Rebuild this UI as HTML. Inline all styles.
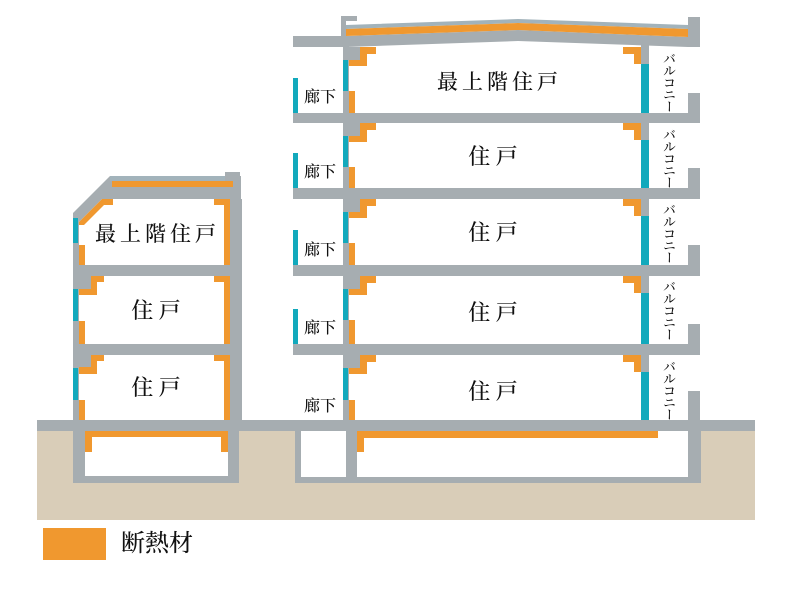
<!DOCTYPE html>
<html><head><meta charset="utf-8">
<style>
html,body{margin:0;padding:0;background:#fff;}
#c{position:relative;width:796px;height:597px;overflow:hidden;background:#fff;}
svg{position:absolute;left:0;top:0;}
.t{position:absolute;white-space:nowrap;color:#111;font-weight:500;font-family:"Liberation Serif","Noto Serif CJK SC","Noto Sans CJK JP",serif;}
.big{font-size:21px;line-height:21px;letter-spacing:4px;}
.mid{font-size:22px;line-height:22px;width:100px;text-align:center;}
.cor{font-size:16px;line-height:16px;}
.bal{font-size:13px;line-height:13px;writing-mode:vertical-rl;width:13px;letter-spacing:-1px;}
</style></head><body>
<div id="c">
<svg width="796" height="597" viewBox="0 0 796 597" xmlns="http://www.w3.org/2000/svg">
<!-- ground -->
<rect x="37" y="431" width="718" height="89" fill="#d9cdb8"/>
<rect x="37" y="420" width="718" height="11" fill="#a6adb1"/>
<!-- basements -->
<rect x="73" y="431" width="166" height="52" fill="#a6adb1"/>
<rect x="85" y="431" width="143" height="45" fill="#fff"/>
<rect x="295" y="431" width="406" height="52" fill="#a6adb1"/>
<rect x="301" y="431" width="45" height="46" fill="#fff"/>
<rect x="357" y="431" width="331" height="46" fill="#fff"/>
<g fill="#f0982f">
<rect x="85" y="431" width="143" height="6"/>
<rect x="85" y="437" width="7" height="15"/>
<rect x="221" y="437" width="7" height="15"/>
<rect x="357" y="431" width="301" height="7"/>
<rect x="357" y="438" width="7" height="14"/>
</g>

<!-- RIGHT BUILDING gray structure -->
<g fill="#a6adb1">
<rect x="293" y="113" width="407" height="10"/>
<rect x="293" y="188" width="407" height="11"/>
<rect x="293" y="265" width="407" height="11"/>
<rect x="293" y="344" width="407" height="11"/>
<rect x="341" y="16" width="5" height="31"/>
<rect x="341" y="16" width="16" height="5"/>
<rect x="343" y="36" width="6" height="384"/>
<rect x="641" y="40" width="8" height="380"/>
<rect x="293" y="36" width="53" height="11"/>
<rect x="688" y="17" width="12" height="30"/>
<polygon points="346,36 518,30 688,37 688,47 518,41 346,47"/>
<rect x="349" y="47" width="11" height="13"/>
<rect x="349" y="123" width="11" height="13"/>
<rect x="349" y="199" width="11" height="13"/>
<rect x="349" y="276" width="11" height="13"/>
<rect x="349" y="355" width="11" height="13"/>
<rect x="688" y="93" width="12" height="20"/>
<rect x="688" y="168" width="12" height="20"/>
<rect x="688" y="245" width="12" height="20"/>
<rect x="688" y="324" width="12" height="20"/>
<rect x="688" y="391" width="12" height="29"/>
</g>
<polygon points="346,25 518,19 688,25 688,29 518,23 346,29" fill="#a2b3bb"/>
<polygon points="346,29 518,23 688,29 688,37 518,30 346,36" fill="#f0982f"/>

<!-- right building orange -->
<g fill="#f0982f">
<polygon points="360,47 376,47 376,54 367,54 367,66 349,66 349,60 360,60"/>
<polygon points="360,123 376,123 376,130 367,130 367,142 349,142 349,136 360,136"/>
<polygon points="360,199 376,199 376,206 367,206 367,218 349,218 349,212 360,212"/>
<polygon points="360,276 376,276 376,283 367,283 367,295 349,295 349,289 360,289"/>
<polygon points="360,355 376,355 376,362 367,362 367,374 349,374 349,368 360,368"/>
<rect x="349" y="91" width="6" height="22"/>
<rect x="349" y="167" width="6" height="21"/>
<rect x="349" y="243" width="6" height="22"/>
<rect x="349" y="320" width="6" height="24"/>
<rect x="349" y="400" width="6" height="20"/>
<polygon points="623,47 641,47 641,64 634,64 634,54 623,54"/>
<polygon points="623,123 641,123 641,140 634,140 634,130 623,130"/>
<polygon points="623,199 641,199 641,216 634,216 634,206 623,206"/>
<polygon points="623,276 641,276 641,293 634,293 634,283 623,283"/>
<polygon points="623,355 641,355 641,372 634,372 634,362 623,362"/>
</g>
<!-- right building teal -->
<g fill="#12a9bc">
<rect x="343" y="60" width="5" height="31"/>
<rect x="343" y="136" width="5" height="31"/>
<rect x="343" y="212" width="5" height="31"/>
<rect x="343" y="289" width="5" height="31"/>
<rect x="343" y="368" width="5" height="32"/>
<rect x="641" y="64" width="8" height="49"/>
<rect x="641" y="140" width="8" height="48"/>
<rect x="641" y="216" width="8" height="49"/>
<rect x="641" y="293" width="8" height="51"/>
<rect x="641" y="372" width="8" height="48"/>
<rect x="293" y="78" width="5" height="35"/>
<rect x="293" y="153" width="5" height="35"/>
<rect x="293" y="230" width="5" height="35"/>
<rect x="293" y="309" width="5" height="35"/>
</g>

<!-- LEFT BUILDING -->
<g fill="#a6adb1">
<polygon points="73,213 110,176 241,176 241,199 102,199 79,222 73,222"/>
<rect x="225" y="172" width="15" height="9"/>
<rect x="73" y="222" width="6" height="198"/>
<rect x="230" y="199" width="12" height="221"/>
<rect x="73" y="265" width="169" height="11"/>
<rect x="73" y="344" width="169" height="11"/>
<rect x="79" y="276" width="12" height="13"/>
<rect x="79" y="355" width="12" height="12"/>
</g>
<rect x="110" y="176" width="115" height="5" fill="#a2b3bb"/>
<g fill="#f0982f">
<rect x="112" y="181" width="121" height="6"/>
<polygon points="102,199 113,199 113,205 104,205 84,225 79,225 79,222"/>
<rect x="79" y="245" width="6" height="20"/>
<rect x="214" y="199" width="16" height="6"/>
<rect x="224" y="199" width="6" height="66"/>
<polygon points="91,276 104,276 104,282 97,282 97,295 79,295 79,289 91,289"/>
<rect x="79" y="321" width="6" height="23"/>
<rect x="214" y="276" width="16" height="6"/>
<rect x="224" y="276" width="6" height="68"/>
<polygon points="91,355 104,355 104,361 97,361 97,374 79,374 79,367 91,367"/>
<rect x="79" y="400" width="6" height="20"/>
<rect x="214" y="355" width="16" height="6"/>
<rect x="224" y="355" width="6" height="65"/>
</g>
<g fill="#12a9bc">
<rect x="73" y="218" width="5" height="25"/>
<rect x="73" y="289" width="5" height="32"/>
<rect x="73" y="368" width="5" height="32"/>
</g>

<!-- legend -->
<rect x="43" y="528" width="63" height="32" fill="#f0982f"/>
</svg>

<div class="t big" style="left:437px;top:72px;">最上階住戸</div>
<div class="t mid" style="left:443px;top:146px;">住 戸</div>
<div class="t mid" style="left:443px;top:222px;">住 戸</div>
<div class="t mid" style="left:443px;top:302px;">住 戸</div>
<div class="t mid" style="left:443px;top:381px;">住 戸</div>

<div class="t cor" style="left:304px;top:90px;">廊下</div>
<div class="t cor" style="left:304px;top:165px;">廊下</div>
<div class="t cor" style="left:304px;top:243px;">廊下</div>
<div class="t cor" style="left:304px;top:321px;">廊下</div>
<div class="t cor" style="left:304px;top:399px;">廊下</div>

<div class="t bal" style="left:662px;top:52px;">バルコニー</div>
<div class="t bal" style="left:662px;top:128px;">バルコニー</div>
<div class="t bal" style="left:662px;top:203px;">バルコニー</div>
<div class="t bal" style="left:662px;top:280px;">バルコニー</div>
<div class="t bal" style="left:662px;top:360px;">バルコニー</div>

<div class="t big" style="left:95px;top:224px;">最上階住戸</div>
<div class="t mid" style="left:106px;top:300px;">住 戸</div>
<div class="t mid" style="left:106px;top:377px;">住 戸</div>

<div class="t" style="left:121px;top:532px;font-size:24px;line-height:24px;">断熱材</div>
</div>
</body></html>
